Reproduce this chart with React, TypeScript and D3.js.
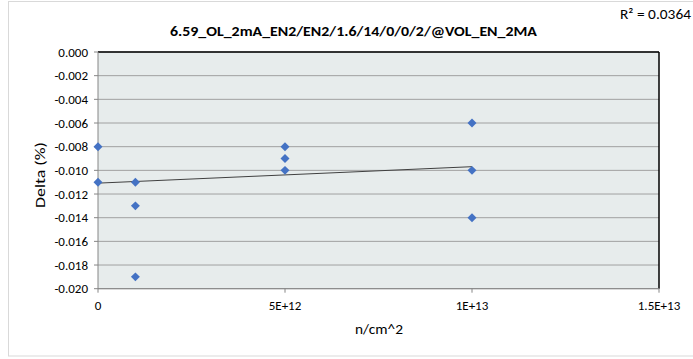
import React from "react";
import * as d3 from "d3";

const xValues = [0, 0, 1e12, 1e12, 1e12, 5e12, 5e12, 5e12, 1e13, 1e13, 1e13];
const yValues = [-0.008, -0.011, -0.011, -0.013, -0.019, -0.008, -0.009, -0.010, -0.006, -0.010, -0.014];
const xTicks = [0, 5e12, 1e13, 1.5e13];
const xTickLabels = ["0", "5E+12", "1E+13", "1.5E+13"];
const yTicks = [0, -0.002, -0.004, -0.006, -0.008, -0.010, -0.012, -0.014, -0.016, -0.018, -0.020];
const trendIntercept = [-0.01108];
const trendSlope = [1.39e-16];
const trendRange = [0, 1e13];
const title = "6.59_OL_2mA_EN2/EN2/1.6/14/0/0/2/@VOL_EN_2MA";
const rSquared = "0.0364";

export default function App() {
  const W = 693, H = 359;
  const left = 98, right = 659, top = 52, bottom = 288.7;
  const x = d3.scaleLinear().domain([0, 1.5e13]).range([left, right]);
  const y = d3.scaleLinear().domain([-0.02, 0]).range([bottom, top]);
  const font = "Carlito, Calibri, 'Open Sans', 'Liberation Sans', sans-serif";
  const trend = trendRange.map((v) => [x(v), y(trendIntercept[0] + trendSlope[0] * v)] as [number, number]);
  const line = d3.line();
  const diamond = d3.symbol().type(d3.symbolSquare).size(40)()!;
  return (
    <svg width={W} height={H} style={{ position: "absolute", left: 0, top: 0 }} fontFamily={font}>
      <rect x={0} y={0} width={W} height={H} fill="#fff" />
      <rect x={8.5} y={1.5} width={720} height={354.5} fill="#fff" stroke="#d9d9d9" strokeWidth={1} />
      <text x={353.5} y={31} dy="0.35em" textAnchor="middle" fontSize={14} fontWeight="bold" textLength={367} lengthAdjust="spacingAndGlyphs" fill="#000">{title}</text>
      <text x={620} y={14} dy="0.35em" fontSize={14} textLength={71} lengthAdjust="spacingAndGlyphs" fill="#000">R² = {rSquared}</text>
      <rect x={left} y={top} width={right - left} height={bottom - top} fill="#e7ecec" />
      {yTicks.map((t) => (
        <line key={"g" + t} x1={left} x2={right} y1={y(t)} y2={y(t)} stroke="#a0a0a0" strokeWidth={1} />
      ))}
      <line x1={left} x2={right} y1={top} y2={top} stroke="#000" strokeWidth={1.5} />
      <line x1={right} x2={right} y1={top} y2={bottom} stroke="#000" strokeWidth={1.5} />
      <line x1={left} x2={left} y1={top} y2={bottom} stroke="#868686" strokeWidth={1} />
      <line x1={left} x2={right} y1={bottom} y2={bottom} stroke="#868686" strokeWidth={1} />
      {yTicks.map((t) => (
        <g key={"y" + t}>
          <line x1={left - 4} x2={left} y1={y(t)} y2={y(t)} stroke="#868686" />
          <text x={88} y={y(t)} dy="0.35em" textAnchor="end" fontSize={13} fill="#000">{t === 0 ? "0.000" : t.toFixed(3)}</text>
        </g>
      ))}
      {xTicks.map((t, i) => (
        <g key={"x" + t}>
          <line x1={x(t)} x2={x(t)} y1={bottom} y2={bottom + 4} stroke="#868686" />
          <text x={x(t)} y={305} dy="0.35em" textAnchor="middle" fontSize={13} fill="#000">{xTickLabels[i]}</text>
        </g>
      ))}
      <text x={379} y={329} dy="0.35em" textAnchor="middle" fontSize={15} textLength={48} lengthAdjust="spacingAndGlyphs" fill="#000">n/cm^2</text>
      <text transform={`translate(40,175) rotate(-90)`} dy="0.35em" textAnchor="middle" fontSize={15} textLength={66} lengthAdjust="spacingAndGlyphs" fill="#000">Delta (%)</text>
      <path d={line(trend)!} stroke="#404040" strokeWidth={1} fill="none" />
      {xValues.map((v, i) => (
        <path key={"p" + i} d={diamond} transform={`translate(${x(v)},${y(yValues[i])}) rotate(45)`} fill="#4472c4" />
      ))}
    </svg>
  );
}
